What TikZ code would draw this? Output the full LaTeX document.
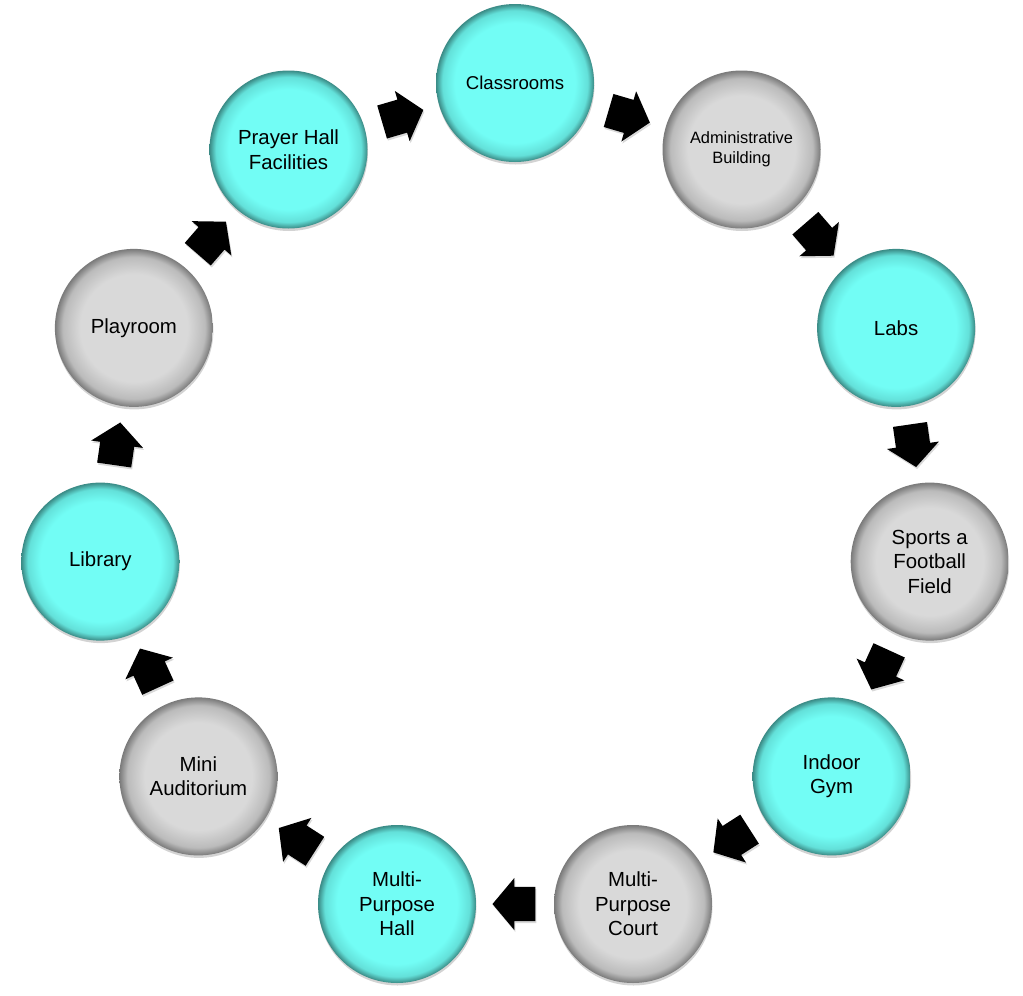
\documentclass[tikz,border=0pt]{standalone}
\usepackage{fontspec}
\setmainfont{Liberation Sans}
\usetikzlibrary{shapes.arrows,shadows}
\definecolor{cyanc}{HTML}{72FDF5}
\definecolor{cyanm}{HTML}{63E0D9}
\definecolor{cyand}{HTML}{3A8A85}
\definecolor{grayc}{HTML}{D9D9D9}
\definecolor{graym}{HTML}{BBBBBB}
\definecolor{grayd}{HTML}{7A7A7A}
\pgfdeclareradialshading{cyanshade}{\pgfpoint{0bp}{0bp}}{color(0bp)=(cyanc); color(19bp)=(cyanc); color(23bp)=(cyanm); color(25bp)=(cyand); color(50bp)=(cyand)}
\pgfdeclareradialshading{grayshade}{\pgfpoint{0bp}{0bp}}{color(0bp)=(grayc); color(17bp)=(grayc); color(22.5bp)=(graym); color(25bp)=(grayd); color(50bp)=(grayd)}
\tikzset{
  ball/.style={circle, minimum size=158pt, inner sep=0pt, align=center,
    font=\fontsize{20.4}{24.5}\selectfont,
    drop shadow={shadow xshift=0.5pt, shadow yshift=-2.5pt, opacity=0.35}},
  tealnode/.style={ball, shading=cyanshade},
  greynode/.style={ball, shading=grayshade},
  blockarrow/.style={single arrow, fill=black, inner xsep=0pt, inner ysep=0pt,
    text height=17pt, text depth=17pt, minimum height=43pt,
    single arrow head extend=9pt, single arrow tip angle=100,
    pos=0.42, sloped, allow upside down,
    drop shadow={shadow xshift=1pt, shadow yshift=-2pt, opacity=0.3}}
}
\begin{document}
\begin{tikzpicture}[x=1pt,y=-1pt]
\useasboundingbox (0,0) rectangle (1023,996);
\node[tealnode, font=\fontsize{18.6}{22.5}\selectfont] (n0) at (515,83) {Classrooms};
\node[greynode, font=\fontsize{16.4}{20}\selectfont] (n1) at (741.5,149.5) {Administrative\\Building};
\node[tealnode] (n2) at (896.1,327.9) {Labs};
\node[greynode] (n3) at (929.7,561.6) {Sports a\\Football\\Field};
\node[tealnode] (n4) at (831.6,776.4) {Indoor\\Gym};
\node[greynode] (n5) at (633.0,904.0) {Multi-\\Purpose\\Court};
\node[tealnode] (n6) at (397.0,904.0) {Multi-\\Purpose\\Hall};
\node[greynode] (n7) at (198.4,776.4) {Mini\\Auditorium};
\node[tealnode] (n8) at (100.3,561.6) {Library};
\node[greynode] (n9) at (133.9,327.9) {Playroom};
\node[tealnode] (n10) at (288.5,149.5) {Prayer Hall\\Facilities};
\path (n0) -- node[blockarrow] (a0) {} (n1);
\path (n1) -- node[blockarrow] (a1) {} (n2);
\path (n2) -- node[blockarrow] (a2) {} (n3);
\path (n3) -- node[blockarrow] (a3) {} (n4);
\path (n4) -- node[blockarrow] (a4) {} (n5);
\path (n5) -- node[blockarrow] (a5) {} (n6);
\path (n6) -- node[blockarrow] (a6) {} (n7);
\path (n7) -- node[blockarrow] (a7) {} (n8);
\path (n8) -- node[blockarrow] (a8) {} (n9);
\path (n9) -- node[blockarrow] (a9) {} (n10);
\path (n10) -- node[blockarrow] (a10) {} (n0);
\end{tikzpicture}
\end{document}
